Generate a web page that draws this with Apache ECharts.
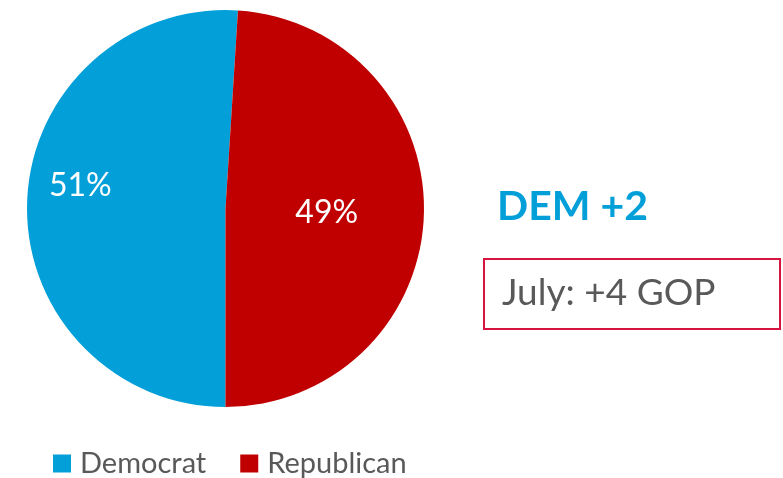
<!DOCTYPE html>
<html>
<head>
<meta charset="utf-8">
<script src="https://cdn.jsdelivr.net/npm/echarts@6/dist/echarts.min.js"></script>
<style>html,body{margin:0;padding:0;background:#fff}#c{width:783px;height:478px}</style>
</head>
<body>
<div id="c"></div>
<script>
const categories = ['Democrat', 'Republican'];
const values = [51, 49];
const colors = ['#039FD9', '#C00000'];
const headline = 'DEM +2';
const note = 'July: +4 GOP';

const FONT = 'Lato, "Open Sans", sans-serif';
const chart = echarts.init(document.getElementById('c'));
chart.setOption({
  animation: false,
  textStyle: { fontFamily: FONT },
  legend: {
    data: categories,
    left: 53, top: 449, padding: 0,
    icon: 'rect', itemWidth: 18, itemHeight: 18, itemGap: 34,
    textStyle: { fontSize: 29, color: '#595959', fontFamily: FONT, padding: [0, 0, 0, 4] }
  },
  series: [{
    type: 'pie',
    center: [225.5, 208.5],
    radius: 198.5,
    startAngle: 270,
    clockwise: true,
    label: {
      show: true, position: 'inside',
      formatter: '{c}%', color: '#fff', fontSize: 32, fontFamily: FONT
    },
    labelLine: { show: false },
    emphasis: { disabled: true },
    data: categories.map((n, i) => ({
      name: n, value: values[i],
      itemStyle: { color: colors[i] },
      label: i === 0 ? { offset: [-43, -20] } : { offset: [-1, 1] }
    }))
  }],
  graphic: [
    { type: 'text', left: 497, top: 186,
      style: { text: headline, font: 'bold 41px ' + FONT, fill: '#039FD9' } },
    { type: 'rect', shape: { x: 484, y: 259, width: 296, height: 70 },
      style: { fill: 'none', stroke: '#D6153E', lineWidth: 2 } },
    { type: 'text', left: 502, top: 275,
      style: { text: note, font: '37px ' + FONT, fill: '#595959' } }
  ]
});
</script>
</body>
</html>
